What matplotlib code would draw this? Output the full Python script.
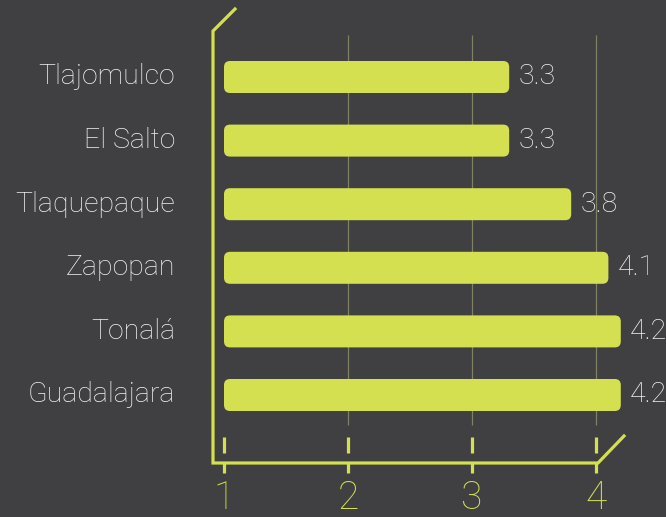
import matplotlib.pyplot as plt
from matplotlib.patches import FancyBboxPatch

# data (top to bottom as shown)
municipios = ['Tlajomulco', 'El Salto', 'Tlaquepaque', 'Zapopan', 'Tonalá', 'Guadalajara']
valores = [3.3, 3.3, 3.8, 4.1, 4.2, 4.2]
ticks = [1, 2, 3, 4]

bg = '#404042'
lima = '#d4e04f'
grid_col = '#7f8064'

plt.rcParams['font.family'] = ['Roboto', 'DejaVu Sans']

fig = plt.figure(figsize=(6.66, 5.17), dpi=100)
fig.patch.set_facecolor(bg)

W, H = 666, 517
# axes in pixels: left spine 213, right 640, bottom spine 463, top 31
ax = fig.add_axes([213 / W, 1 - 463 / H, (640 - 213) / W, (463 - 31) / H])
ax.set_facecolor(bg)

xpp = 3 / 372.0   # x units per pixel
ypp = 1 / 63.6    # y units per pixel
x0 = 1 - 11 * xpp
x1 = 4 + 44 * xpp
y0 = -68 * ypp
y1 = 5 + 46 * ypp
ax.set_xlim(x0, x1)
ax.set_ylim(y0, y1)
for s in ax.spines.values():
    s.set_visible(False)
ax.set_xticks([])
ax.set_yticks([])

n = len(municipios)

# grid lines
ax.vlines(ticks[1:], -30 * ypp, 5 + 42 * ypp, color=grid_col, lw=0.9, zorder=1)

# bars with rounded corners
bar_h = 32 * ypp
for i, (nombre, v) in enumerate(zip(municipios, valores)):
    y = n - 1 - i
    p = FancyBboxPatch((1, y - bar_h / 2), v - 1, bar_h,
                       boxstyle='round,pad=0,rounding_size=%f' % (6 * xpp),
                       mutation_aspect=ypp / xpp, fc=lima, ec='none', zorder=3)
    ax.add_patch(p)
    ax.text(v + 9 * xpp, y, str(v), color='#f2f2f2', fontsize=20.5,
            fontweight='light', va='center', ha='left', zorder=4)
    ax.text(x0 - 38 * xpp, y, nombre, color='#f2f2f2', fontsize=20.5,
            fontweight='light', va='center', ha='right', clip_on=False)

# custom axis line with angled ends
sx = [x0 + 22 * xpp, x0, x0, 4 + 2 * xpp, 4 + 28 * xpp]
sy = [y1 + 22 * ypp, y1, y0, y0, y0 + 27 * ypp]
ax.plot(sx, sy, color=lima, lw=2.3, clip_on=False, solid_joinstyle='miter', zorder=5)

# tick marks
ax.vlines(ticks, -42 * ypp, -58 * ypp, color=lima, lw=2.3, clip_on=False)
ax.vlines(ticks, y0, y0 - 10 * ypp, color=lima, lw=2.3, clip_on=False)
for t in ticks:
    ax.text(t, y0 - 35 * ypp, str(t), color=lima, fontsize=28, fontweight='light',
            ha='center', va='center', clip_on=False)

fig.savefig('out.png', dpi=100, facecolor=bg)
